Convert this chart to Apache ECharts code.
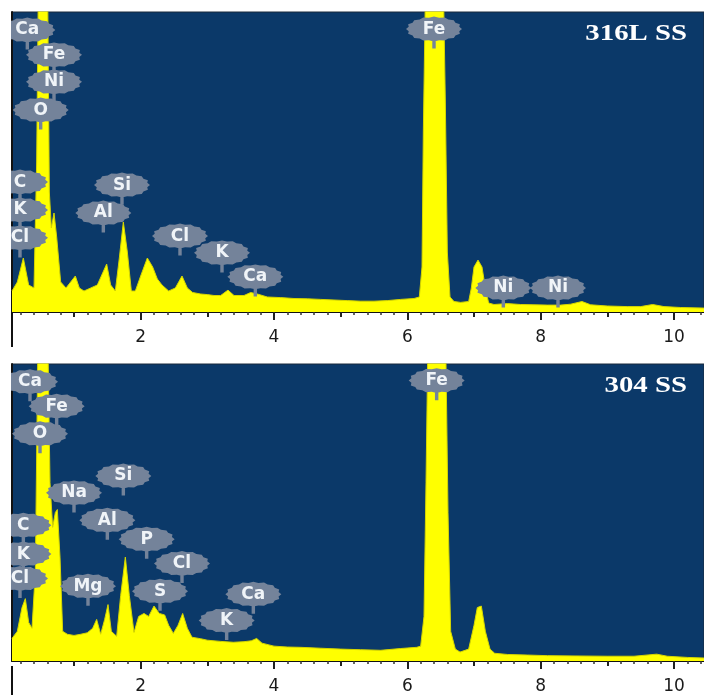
<!DOCTYPE html>
<html>
<head>
<meta charset="utf-8">
<script src="https://cdn.jsdelivr.net/npm/echarts@6/dist/echarts.min.js"></script>
<style>
  html, body { margin: 0; padding: 0; background: #fff; }
  #main { width: 704px; height: 695px; }
</style>
</head>
<body>
<div id="main"></div>
<script>
// 316L SS spectrum (keV, counts in % of panel height)
const energy316 = [0.07,0.15,0.24,0.32,0.40,0.44,0.47,0.53,0.60,0.63,0.66,0.70,0.74,0.80,0.88,0.95,1.02,1.08,1.15,1.25,1.35,1.43,1.49,1.55,1.62,1.68,1.74,1.80,1.86,1.92,2.00,2.10,2.18,2.25,2.32,2.42,2.52,2.62,2.70,2.78,2.90,3.00,3.10,3.20,3.31,3.40,3.55,3.65,3.75,3.90,4.10,4.30,4.50,4.70,4.90,5.10,5.30,5.50,5.70,5.90,6.10,6.18,6.22,6.24,6.27,6.35,6.45,6.54,6.57,6.60,6.64,6.70,6.80,6.92,6.96,7.00,7.06,7.12,7.17,7.22,7.30,7.50,7.70,7.90,8.10,8.30,8.45,8.62,8.75,9.00,9.30,9.50,9.68,9.85,10.10,10.45];
const counts316 = [7,10,18,9,8,50,120,130,120,40,28,33,25,10,8,10,12,8,7,8,9,13,16,9,7,18,30,20,7,7,12,18,15,11,9,7,8,12,8,6.5,6,5.8,5.5,5.5,7.3,5.5,5.5,6.5,6,5,4.8,4.5,4.4,4.2,4.0,3.8,3.6,3.6,3.8,4.2,4.5,5,15,60,105,120,125,110,70,20,5,3.5,3.2,3.5,8,15,17.3,15,8,3,2.5,2.8,2.5,2.4,2.3,2.3,2.6,3.5,2.4,2.0,1.8,1.8,2.5,1.8,1.5,1.3];

// 304 SS spectrum
const energy304 = [0.07,0.15,0.22,0.27,0.32,0.37,0.42,0.46,0.52,0.60,0.64,0.68,0.72,0.75,0.79,0.83,0.90,1.00,1.10,1.20,1.28,1.34,1.40,1.46,1.51,1.56,1.64,1.70,1.77,1.83,1.90,1.97,2.05,2.12,2.20,2.28,2.36,2.42,2.49,2.56,2.63,2.70,2.77,2.90,3.00,3.20,3.39,3.55,3.66,3.74,3.82,4.00,4.20,4.40,4.70,5.00,5.30,5.60,5.90,6.14,6.20,6.25,6.28,6.31,6.40,6.50,6.58,6.61,6.65,6.72,6.79,6.92,7.00,7.05,7.11,7.17,7.24,7.31,7.50,7.80,8.10,8.50,9.00,9.40,9.74,9.90,10.20,10.45];
const counts304 = [7.6,10,18,21,13,11,30,110,130,120,60,45,50,51,35,10,9,8.6,9,9.5,11,14,9,14,19,10,8.3,22,35,22,9.6,15,16,15,18.5,16,15.5,12,9.3,12,16,11,8,7.5,7,6.6,6.3,6.5,6.8,7.6,6,5,4.7,4.6,4.3,4,3.8,3.6,4.2,4.6,5,15,60,110,125,120,100,50,10,4,3,4,12,18,18.5,10,4,2.6,2.2,2,1.8,1.7,1.6,1.6,2.3,1.6,1.2,1];

// element markers: [keV, height, element]
const marks316 = [
  [0.30, 94, 'Ca'], [0.70, 85.7, 'Fe'], [0.70, 76.7, 'Ni'], [0.50, 67.3, 'O'],
  [0.19, 43.3, 'C'], [0.19, 34, 'K'], [0.19, 24.7, 'Cl'],
  [1.72, 42.3, 'Si'], [1.44, 33, 'Al'], [2.59, 25.3, 'Cl'], [3.22, 19.7, 'K'],
  [3.72, 11.7, 'Ca'], [6.40, 94.3, 'Fe'], [7.44, 8, 'Ni'], [8.26, 8, 'Ni']
];
const marks304 = [
  [0.34, 94, 'Ca'], [0.74, 85.8, 'Fe'], [0.49, 76.5, 'O'], [1.74, 62.3, 'Si'],
  [1.00, 56.6, 'Na'], [0.24, 45.7, 'C'], [1.50, 47.4, 'Al'], [2.09, 41, 'P'],
  [0.24, 36, 'K'], [2.62, 32.8, 'Cl'], [0.19, 27.8, 'Cl'], [1.21, 25.2, 'Mg'],
  [2.29, 23.5, 'S'], [3.69, 22.5, 'Ca'], [3.29, 13.6, 'K'], [6.44, 94.4, 'Fe']
];

const titles = ['316L SS', '304 SS'];
const majorTicks = [2, 4, 6, 8, 10];
const midTicks = [1, 3, 5, 7, 9];
const minorTicks = [];
for (let i = 1; i <= 52; i++) {
  const v = Math.round(i * 2) / 10;
  if (i % 5 !== 0) minorTicks.push(v);
}

// gear-like badge symbol with small stem
function badgePath() {
  let d = '';
  const n = 32;
  for (let i = 0; i < n; i++) {
    const a = i / n * Math.PI * 2;
    const r = i % 2 ? 0.92 : 1;
    const x = 50 + 49 * r * Math.cos(a);
    const y = 24 + 23 * r * Math.sin(a);
    d += (i ? 'L' : 'M') + x.toFixed(2) + ' ' + y.toFixed(2) + ' ';
  }
  d += 'Z M47 46 L53 46 L53 60 L47 60 Z';
  return 'path://' + d;
}
const BADGE = badgePath();

const chart = echarts.init(document.getElementById('main'));
const panels = [
  { top: 12, height: 300 },
  { top: 364, height: 302 }
];

const grids = [], xAxes = [], yAxes = [], series = [], titleText = [];
panels.forEach((p, k) => {
  grids.push({
    left: 12, right: 0, top: p.top, height: p.height,
    show: true, backgroundColor: '#0b3969', borderColor: '#1b2a3c', borderWidth: 1
  });
  const base = { type: 'value', gridIndex: k, min: 0.07, max: 10.45, position: 'bottom', splitLine: { show: false } };
  xAxes.push(Object.assign({}, base, {
    axisLine: { show: true, lineStyle: { color: '#111', width: 2 } },
    axisTick: { show: true, customValues: majorTicks, length: 8, lineStyle: { color: '#222', width: 2 } },
    axisLabel: { show: true, customValues: majorTicks, margin: 17, color: '#1a1a1a', fontSize: 17, fontFamily: 'DejaVu Sans' }
  }));
  xAxes.push(Object.assign({}, base, {
    axisLine: { show: false },
    axisTick: { show: true, customValues: midTicks, length: 5, lineStyle: { color: '#222', width: 2 } },
    axisLabel: { show: false }
  }));
  xAxes.push(Object.assign({}, base, {
    axisLine: { show: false },
    axisTick: { show: true, customValues: minorTicks, length: 3, lineStyle: { color: '#333', width: 1.5 } },
    axisLabel: { show: false }
  }));
  yAxes.push({
    type: 'value', gridIndex: k, min: 0, max: 100,
    axisLine: { show: true, lineStyle: { color: '#111', width: 2 } },
    axisTick: { show: false }, axisLabel: { show: false }, splitLine: { show: false }
  });
  // stretched serif sample name, right aligned
  titleText.push({
    type: 'text', x: 687, y: p.top + 10, scaleX: 1.2, z: 100,
    style: {
      text: titles[k], fill: '#fff', textAlign: 'right', textVerticalAlign: 'top',
      font: 'bold 24px "Liberation Serif", "Times New Roman", serif'
    }
  });
});

const spectra = [[energy316, counts316], [energy304, counts304]];
spectra.forEach((s, k) => {
  series.push({
    type: 'line', xAxisIndex: k * 3, yAxisIndex: k,
    data: s[0].map((e, i) => [e, s[1][i]]),
    showSymbol: false, clip: true, z: 2,
    lineStyle: { color: '#d6d600', width: 1 },
    areaStyle: { color: '#ffff00', opacity: 1 }
  });
});

[marks316, marks304].forEach((m, k) => {
  series.push({
    type: 'scatter', xAxisIndex: k * 3, yAxisIndex: k, z: 5, clip: false,
    symbol: BADGE, symbolSize: [56, 32], symbolOffset: [0, 3.5],
    itemStyle: { color: '#74839a', opacity: 1 },
    label: {
      show: true, position: 'inside', offset: [0, -3.5],
      formatter: (d) => d.data[2],
      color: '#f0f4f8', fontSize: 17, fontWeight: 'bold', fontFamily: 'DejaVu Sans'
    },
    data: m
  });
});

chart.setOption({
  animation: false,
  grid: grids,
  xAxis: xAxes,
  yAxis: yAxes,
  series: series,
  graphic: titleText.concat([
    { type: 'rect', left: 0, top: 0, shape: { width: 11, height: 695 }, style: { fill: '#fff' }, z: 100 },
    { type: 'line', shape: { x1: 12, y1: 312, x2: 12, y2: 347 }, style: { stroke: '#111', lineWidth: 2 }, z: 100 },
    { type: 'line', shape: { x1: 12, y1: 666, x2: 12, y2: 695 }, style: { stroke: '#111', lineWidth: 2 }, z: 100 }
  ])
});
</script>
</body>
</html>
